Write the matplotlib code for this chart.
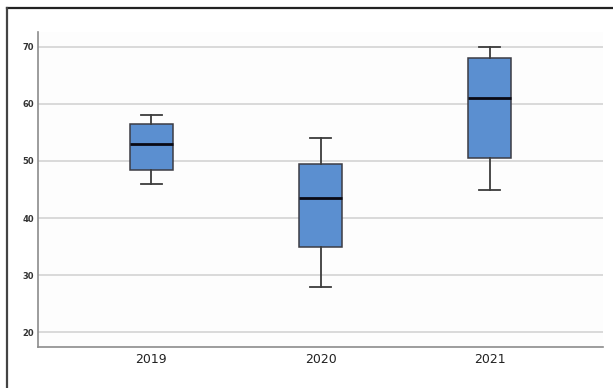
import matplotlib
matplotlib.use("Agg")
import matplotlib.pyplot as plt
from matplotlib.lines import Line2D

# Summary statistics per year
years = ["2019", "2020", "2021"]
whisker_low = [46, 28, 45]
q1 = [48.5, 35, 50.5]
median = [53, 43.5, 61]
q3 = [56.5, 49.5, 68]
whisker_high = [58, 54, 70]
y_ticks = [20, 30, 40, 50, 60, 70]

fig = plt.figure(figsize=(6.13, 3.88), dpi=100)
fig.patch.set_facecolor("white")

ax = fig.add_axes([38 / 613, 41 / 388, 565 / 613, 315 / 388])
ax.set_facecolor("#fdfdfd")

stats = []
for i, y in enumerate(years):
    stats.append(dict(label=y, whislo=whisker_low[i], q1=q1[i], med=median[i],
                      q3=q3[i], whishi=whisker_high[i], fliers=[]))

ax.bxp(stats, positions=range(len(years)), widths=0.254, patch_artist=True,
       showfliers=False,
       boxprops=dict(facecolor="#5b8fd0", edgecolor="#3c3c44", linewidth=1.1),
       medianprops=dict(color="#0a0a14", linewidth=2.0),
       whiskerprops=dict(color="#3c3c3c", linewidth=1.3),
       capprops=dict(color="#3c3c3c", linewidth=1.3),
       capwidths=0.125)

ax.set_xlim(-0.67, 2.67)
ax.set_ylim(17.4, 72.6)
ax.set_yticks(y_ticks)
ax.set_yticklabels([str(t) for t in y_ticks], fontsize=6, color="#333333",
                   fontweight="bold")
ax.set_xticks(range(len(years)))
ax.set_xticklabels(years, fontsize=9, color="#222222")
ax.tick_params(axis="both", length=0)
ax.tick_params(axis="y", pad=3)
ax.tick_params(axis="x", pad=4)

ax.yaxis.grid(True, color="#d4d4d4", linewidth=1.2)
ax.set_axisbelow(True)
for side in ("top", "right"):
    ax.spines[side].set_visible(False)
for side in ("left", "bottom"):
    ax.spines[side].set_color("#8c8c8c")
    ax.spines[side].set_linewidth(1.2)

# Outer frame around the figure (top and left edges)
W, H = 613, 388
fig.add_artist(Line2D([7 / W, 1.0], [1 - 8 / H, 1 - 8 / H],
                      transform=fig.transFigure, color="#222222", linewidth=1.6))
fig.add_artist(Line2D([7 / W, 7 / W], [1 - 8 / H, 0.0],
                      transform=fig.transFigure, color="#444444", linewidth=1.6))

fig.savefig("out.png", dpi=100)
